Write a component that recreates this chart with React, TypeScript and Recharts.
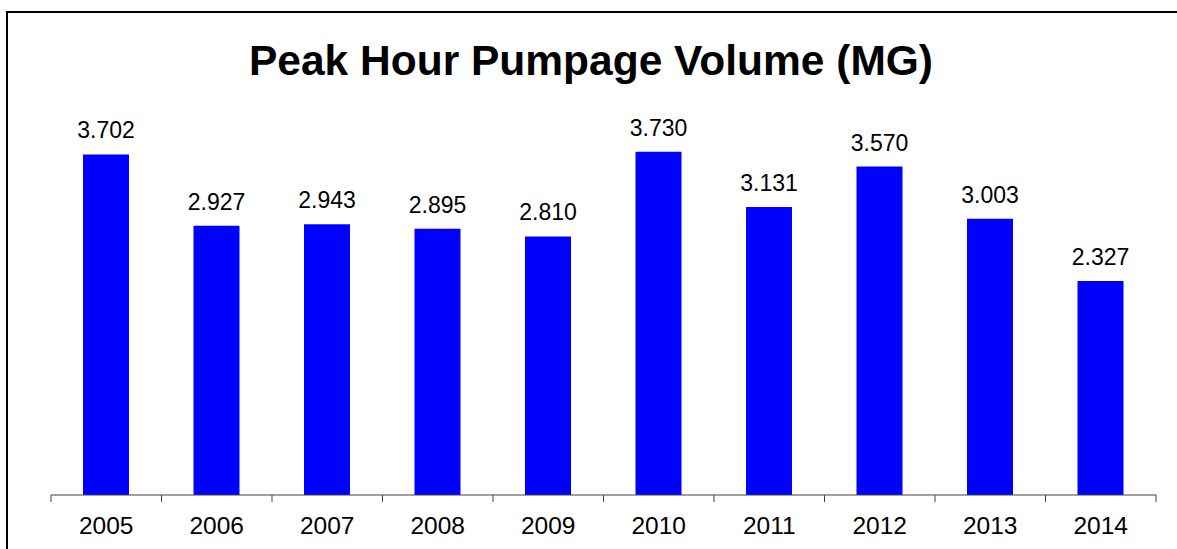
import React from 'react';
import { BarChart, Bar, XAxis, YAxis, LabelList } from 'recharts';

const years = ['2005', '2006', '2007', '2008', '2009', '2010', '2011', '2012', '2013', '2014'];
const peakHourVolume = [3.702, 2.927, 2.943, 2.895, 2.81, 3.73, 3.131, 3.57, 3.003, 2.327];

const data = years.map((year, i) => ({ year, volume: peakHourVolume[i] }));

const WIDTH = 1177;
const HEIGHT = 549;
const MARGIN = { top: 127, right: 21, bottom: 0, left: 51 };
const FONT = '"Liberation Sans", Arial, Helvetica, sans-serif';

const bandHalf = (WIDTH - MARGIN.left - MARGIN.right) / years.length / 2;

// year label centred in the band, tick marks on the band edges
const YearTick = (props: any) => {
  const { x, y, payload, index } = props;
  const half = payload && typeof payload.offset === 'number' && payload.offset > 0 ? payload.offset : bandHalf;
  const isLast = index === years.length - 1;
  return (
    <g>
      <line x1={x - half} x2={x - half} y1={y} y2={y + 7} stroke="#404040" strokeWidth={1} />
      {isLast && <line x1={x + half} x2={x + half} y1={y} y2={y + 7} stroke="#404040" strokeWidth={1} />}
      <text x={x} y={y + 39} textAnchor="middle" fill="#000" fontSize={24.5} fontFamily={FONT}>
        {payload.value}
      </text>
    </g>
  );
};

export default function App() {
  return (
    <div style={{ position: 'absolute', left: 0, top: 0, width: WIDTH, height: HEIGHT, background: '#fff' }}>
      <svg width={WIDTH} height={HEIGHT} style={{ position: 'absolute', left: 0, top: 0 }}>
        <line x1={6} x2={WIDTH} y1={12} y2={12} stroke="#000" strokeWidth={2} />
        <line x1={7} x2={7} y1={11} y2={HEIGHT} stroke="#000" strokeWidth={2} />
        <text x={591} y={75} textAnchor="middle" fontSize={42.5} fontWeight="bold" fontFamily={FONT} fill="#000">
          Peak Hour Pumpage Volume (MG)
        </text>
      </svg>
      <div style={{ position: 'absolute', left: 0, top: 0 }}>
        <BarChart width={WIDTH} height={HEIGHT} data={data} margin={MARGIN}>
          <XAxis
            dataKey="year"
            interval={0}
            height={54}
            tickLine={false}
            tickSize={0}
            tickMargin={0}
            axisLine={{ stroke: '#404040', strokeWidth: 1 }}
            tick={<YearTick />}
          />
          <YAxis hide domain={[0, 4]} />
          <Bar dataKey="volume" fill="#0000ff" barSize={46} isAnimationActive={false}>
            <LabelList
              dataKey="volume"
              position="top"
              offset={16}
              fill="#000"
              fontSize={23}
              fontFamily={FONT}
              formatter={(v: any) => Number(v).toFixed(3)}
            />
          </Bar>
        </BarChart>
      </div>
    </div>
  );
}
